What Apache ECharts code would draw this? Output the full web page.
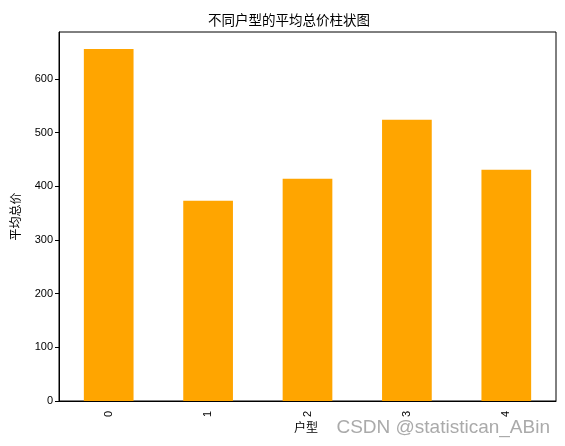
<!DOCTYPE html>
<html><head><meta charset="utf-8">
<script src="https://cdn.jsdelivr.net/npm/echarts@6/dist/echarts.min.js"></script>
<style>html,body{margin:0;padding:0;background:#fff}#c{width:565px;height:446px}</style>
</head><body><div id="c"></div>
<script>
var categories = ['0', '1', '2', '3', '4'];
var avgPrice = [656, 373, 414, 524, 431];
var yTicks = [0, 100, 200, 300, 400, 500, 600];
var titleText = '不同户型的平均总价柱状图';
var xName = '户型';
var yName = '平均总价';
var watermark = 'CSDN @statistican_ABin';

var cjk = '"Noto Sans CJK SC", sans-serif';
var latin = '"Liberation Sans", Arial, sans-serif';
var chart = echarts.init(document.getElementById('c'), null, {renderer: 'canvas'});
chart.setOption({
  animation: false,
  backgroundColor: '#fff',
  title: {
    text: titleText, left: 284, top: 8, textAlign: 'center',
    textStyle: {fontFamily: cjk, fontSize: 13.5, fontWeight: 'normal', color: '#000'}
  },
  grid: {left: 59, top: 32, right: 9, bottom: 45, show: true, borderColor: '#000', borderWidth: 1, backgroundColor: 'transparent'},
  xAxis: {
    type: 'category', data: categories, boundaryGap: true,
    axisLine: {lineStyle: {color: '#000'}},
    axisTick: {alignWithLabel: true, length: 4, lineStyle: {color: '#000'}},
    axisLabel: {rotate: 90, color: '#000', fontFamily: latin, fontSize: 11, margin: 10},
    splitLine: {show: false}
  },
  yAxis: {
    type: 'value', min: 0, max: 687.6,
    name: yName, nameLocation: 'middle', nameRotate: 90, nameGap: 38,
    nameTextStyle: {fontFamily: cjk, fontSize: 12, color: '#000'},
    axisLine: {show: true, lineStyle: {color: '#000'}},
    axisTick: {show: true, length: 4, lineStyle: {color: '#000'}, customValues: yTicks},
    axisLabel: {color: '#000', fontFamily: latin, fontSize: 11, margin: 6, customValues: yTicks},
    splitLine: {show: false}
  },
  series: [{
    type: 'bar', data: avgPrice, barWidth: '50%',
    itemStyle: {color: '#FFA500'}
  }],
  graphic: [
    {type: 'text', left: 294, top: 421, style: {text: xName, font: '12px ' + cjk, fill: '#000'}},
    {type: 'text', right: 15, top: 418, style: {text: watermark, font: '19px ' + latin, fill: '#aaa'}}
  ]
});
</script></body></html>
